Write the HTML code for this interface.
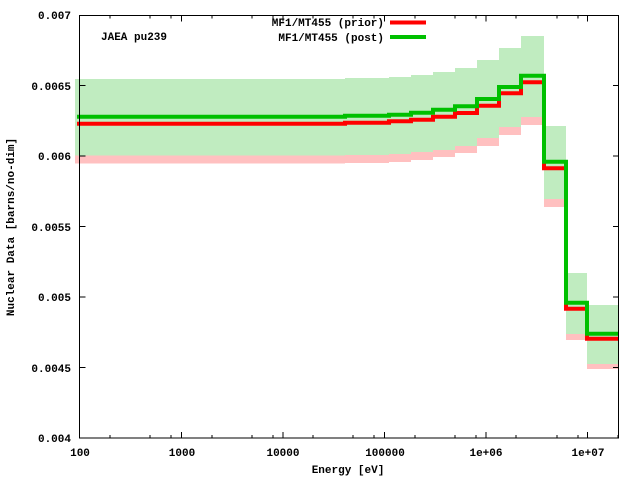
<!DOCTYPE html>
<html><head><meta charset="utf-8"><style>
body{margin:0;background:#fff}
svg text{font-family:"Liberation Mono","DejaVu Sans Mono",monospace;font-weight:bold;font-size:11px;fill:#000}
</style></head><body>
<svg width="640" height="480" xmlns="http://www.w3.org/2000/svg">
<rect width="640" height="480" fill="#fff"/>
<g id="bands">
<!-- pink (prior lower) -->
<g fill="#ffc0c0">
<rect x="75" y="155.5" width="270" height="8"/>
<rect x="345" y="155" width="44" height="8"/>
<rect x="389" y="154" width="22" height="8"/>
<rect x="411" y="152" width="22" height="8"/>
<rect x="433" y="150" width="22" height="7"/>
<rect x="455" y="146" width="22" height="7"/>
<rect x="477" y="138" width="22" height="8"/>
<rect x="499" y="127" width="22" height="8"/>
<rect x="521" y="117" width="23" height="8"/>
<rect x="544" y="199" width="22" height="8"/>
<rect x="566" y="334" width="21" height="6"/>
<rect x="587" y="364" width="32" height="5"/>
</g>
<g fill="#c0ecc0">
<rect x="75" y="79" width="270" height="76.5"/>
<rect x="345" y="78" width="44" height="77"/>
<rect x="389" y="77" width="22" height="77"/>
<rect x="411" y="75" width="22" height="77"/>
<rect x="433" y="72" width="22" height="78"/>
<rect x="455" y="68" width="22" height="78"/>
<rect x="477" y="60" width="22" height="78"/>
<rect x="499" y="48" width="22" height="79"/>
<rect x="521" y="36" width="23" height="81"/>
<rect x="544" y="126" width="22" height="73"/>
<rect x="566" y="273" width="21" height="61"/>
<rect x="587" y="305" width="32" height="59"/>
</g>
</g>
<path d="M77 123.7H345V122.7H389V121.3H411V119.7H433V116.7H455V113H477V105.7H499V93.3H521V82.3H544V168.3H566V308.7H587V338.7H619" fill="none" stroke="#ff0000" stroke-width="4"/>
<path d="M77 116.7H345V115.7H389V114.7H411V112.7H433V109.7H455V106.3H477V99H499V87H521V75.7H544V161.7H566V302.7H587V333.7H619" fill="none" stroke="#00c000" stroke-width="4"/>
<g stroke="#000" stroke-width="1" fill="none">
<rect x="79.5" y="15.5" width="539" height="422.5"/>
<path d="M79.5 438h6M79.5 367.5h6M79.5 297h6M79.5 226.5h6M79.5 156h6M79.5 85.5h6M619 367.5h-6M619 297h-6M619 226.5h-6M619 156h-6M619 85.5h-6"/>
<path d="M181.5 438v-6M283 438v-6M384.5 438v-6M486 438v-6M587.5 438v-6M181.5 15.5v6M283 15.5v6M384.5 15.5v6M486 15.5v6M587.5 15.5v6"/>
<path d="M110 438v-3M150 438v-3M171 438v-3M212 438v-3M252 438v-3M273 438v-3M313 438v-3M353 438v-3M374 438v-3M415 438v-3M455 438v-3M476 438v-3M516 438v-3M557 438v-3M578 438v-3M618 438v-3
M110 15.5v3M150 15.5v3M171 15.5v3M212 15.5v3M252 15.5v3M273 15.5v3M313 15.5v3M353 15.5v3M374 15.5v3M415 15.5v3M455 15.5v3M476 15.5v3M516 15.5v3M557 15.5v3M578 15.5v3"/>
</g>
<g text-anchor="end">
<text x="71" y="19">0.007</text>
<text x="71" y="90">0.0065</text>
<text x="71" y="160">0.006</text>
<text x="71" y="231">0.0055</text>
<text x="71" y="301">0.005</text>
<text x="71" y="372">0.0045</text>
<text x="71" y="442">0.004</text>
</g>
<g text-anchor="middle">
<text x="80" y="456">100</text>
<text x="182" y="456">1000</text>
<text x="283" y="456">10000</text>
<text x="385" y="456">100000</text>
<text x="486" y="456">1e+06</text>
<text x="588" y="456">1e+07</text>
<text x="348" y="473">Energy [eV]</text>
<text transform="translate(14,227) rotate(-90)">Nuclear Data [barns/no-dim]</text>
</g>
<text x="101" y="40">JAEA pu239</text>
<g text-anchor="end">
<text x="384" y="26">MF1/MT455 (prior)</text>
<text x="384" y="41">MF1/MT455 (post)</text>
</g>
<path d="M390 22.5H426" stroke="#ff0000" stroke-width="4"/>
<path d="M390 37H426" stroke="#00c000" stroke-width="4"/>
</svg>
</body></html>
